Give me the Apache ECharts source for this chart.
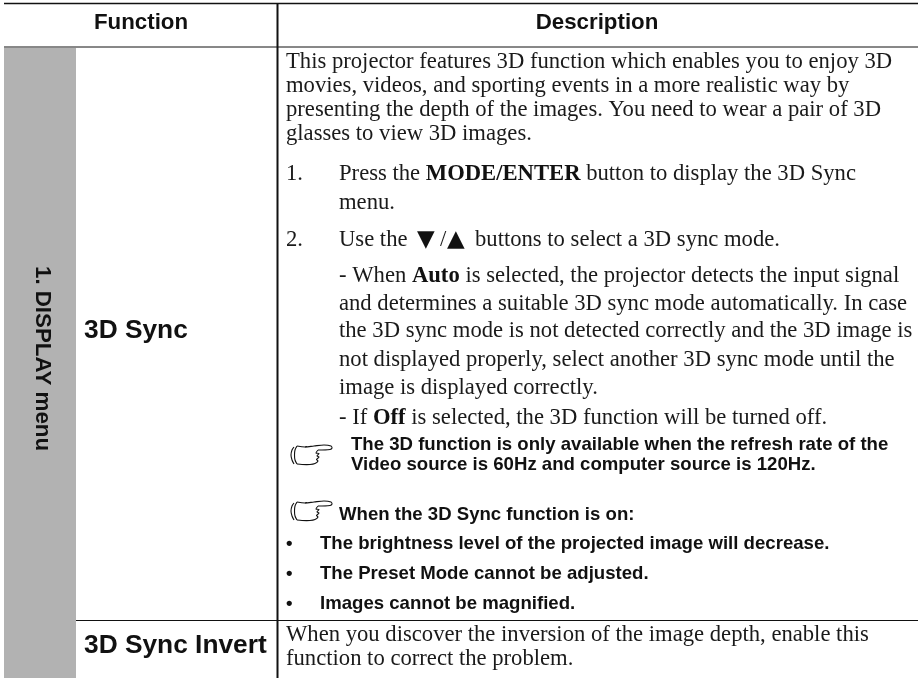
<!DOCTYPE html>
<html><head><meta charset="utf-8">
<style>html,body{margin:0;padding:0;background:#fff}#c{width:918px;height:678px}</style>
<script src="https://cdn.jsdelivr.net/npm/echarts@6/dist/echarts.min.js"></script>
</head><body><div id="c"></div>
<script>
var headers = [["Function",141,23],["Description",597,23]];
var functions = [["3D Sync",84,331],["3D Sync Invert",84,646]];
var sideLabel = "1. DISPLAY menu";
var bodyLines = [
 ["This projector features 3D function which enables you to enjoy 3D",286,62],
 ["movies, videos, and sporting events in a more realistic way by",286,86],
 ["presenting the depth of the images. You need to wear a pair of 3D",286,110],
 ["glasses to view 3D images.",286,134],
 ["1.",286,174],
 ["Press the **MODE/ENTER** button to display the 3D Sync",339,174],
 ["menu.",339,203],
 ["2.",286,240],
 ["Use the",339,240],
 ["▼",417,240,"tri"],
 ["/",440,240],
 ["▲",447,240,"tri"],
 ["buttons to select a 3D sync mode.",475,240],
 ["- When **Auto** is selected, the projector detects the input signal",339,276],
 ["and determines a suitable 3D sync mode automatically. In case",339,304],
 ["the 3D sync mode is not detected correctly and the 3D image is",339,331],
 ["not displayed properly, select another 3D sync mode until the",339,360],
 ["image is displayed correctly.",339,388],
 ["- If **Off** is selected, the 3D function will be turned off.",339,418],
 ["When you discover the inversion of the image depth, enable this",286,635],
 ["function to correct the problem.",286,659]
];
var noteLines = [
 ["The 3D function is only available when the refresh rate of the",351,445],
 ["Video source is 60Hz and computer source is 120Hz.",351,465],
 ["When the 3D Sync function is on:",339,515],
 ["•",286,544],["The brightness level of the projected image will decrease.",320,544],
 ["•",286,574],["The Preset Mode cannot be adjusted.",320,574],
 ["•",286,604],["Images cannot be magnified.",320,604]
];
var handOrigins = [[290,444],[290,500]];
var handStrokes = [
 [[4,3],[2,6],[1,11],[2,16],[4,20]],
 [[7,2],[5,6],[4.5,11],[5,16],[7,20]],
 [[7,2],[15,3],[24,2],[34,1],[41,2],[42,4],[40,5.5],[28,6]],
 [[15,3],[17,2.5]],
 [[28,6],[26,9],[29,9.5],[27,12],[29,13],[26.5,15.5],[28,17],[25,19.5],[20,20.5],[12,20.5],[7,20]]
];

var SERIF = '"Liberation Serif","Times New Roman",serif';
var SANS = '"Liberation Sans",Arial,sans-serif';
var BODY = 22.65, NOTE = 18.6, FUNC = 26.3, HEAD = 22.3;
function serifText(l){
  var parts = l[0].split("**"), out = "";
  parts.forEach(function(p,i){ out += (i%2 && p) ? "{b|"+p+"}" : (p ? "{n|"+p+"}" : ""); });
  return out;
}
var g = [];
g.push({type:'rect',shape:{x:4,y:48,width:72,height:630},style:{fill:'#b2b2b2'},silent:true});
[[4,3.5,918,3.5,1.5],[4,47,918,47,1],[76,620.5,918,620.5,1],[277.5,3,277.5,678,2]].forEach(function(s){
  g.push({type:'line',shape:{x1:s[0],y1:s[1],x2:s[2],y2:s[3]},style:{stroke:'#111',lineWidth:s[4]},silent:true});
});
headers.forEach(function(h){
  g.push({type:'text',style:{x:h[1],y:h[2],text:h[0],align:'center',verticalAlign:'middle',font:'bold '+HEAD+'px '+SANS,fill:'#111'}});
});
functions.forEach(function(f){
  g.push({type:'text',style:{x:f[1],y:f[2],text:f[0],align:'left',verticalAlign:'middle',font:'bold '+FUNC+'px '+SANS,fill:'#111'}});
});
g.push({type:'text',x:42,y:358.5,rotation:-Math.PI/2,style:{x:0,y:0,text:sideLabel,align:'center',verticalAlign:'middle',font:'bold '+HEAD+'px '+SANS,fill:'#111'}});
bodyLines.forEach(function(l){
  if(l[3]==='tri'){
    g.push({type:'text',style:{x:l[1],y:l[2],text:l[0],align:'left',verticalAlign:'middle',font:'23px "DejaVu Sans"',fill:'#111'}});
    return;
  }
  g.push({type:'text',style:{x:l[1],y:l[2],text:serifText(l),align:'left',verticalAlign:'middle',font:BODY+'px '+SERIF,fill:'#1a1a1a',
    rich:{n:{font:BODY+'px '+SERIF,fill:'#1a1a1a'},b:{font:'bold '+BODY+'px '+SERIF,fill:'#111'}}}});
});
noteLines.forEach(function(l){
  g.push({type:'text',style:{x:l[1],y:l[2],text:l[0],align:'left',verticalAlign:'middle',font:'bold '+NOTE+'px '+SANS,fill:'#111'}});
});
handOrigins.forEach(function(o){
  g.push({type:'group',x:o[0],y:o[1],silent:true,children:handStrokes.map(function(p){
    return {type:'polyline',shape:{points:p,smooth:0.3},style:{fill:null,stroke:'#111',lineWidth:1.1}};
  })});
});
var chart = echarts.init(document.getElementById('c'),null,{renderer:'canvas'});
chart.setOption({animation:false,backgroundColor:'#fff',graphic:{elements:g}});
</script></body></html>
